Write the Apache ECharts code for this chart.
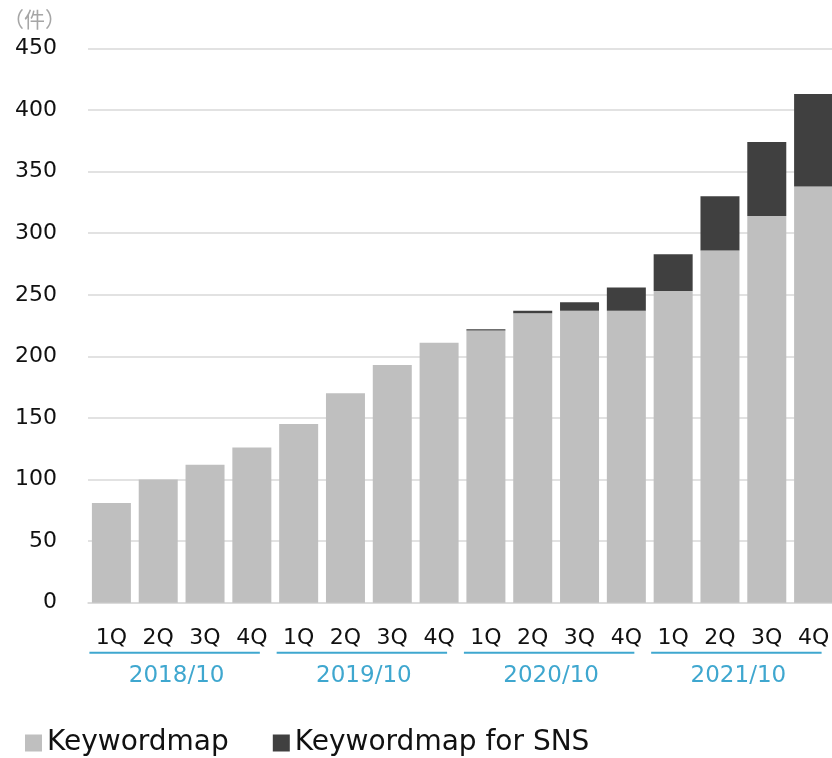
<!DOCTYPE html>
<html>
<head>
<meta charset="utf-8">
<script src="https://cdn.jsdelivr.net/npm/echarts@6/dist/echarts.min.js"></script>
<style>
html,body{margin:0;padding:0;background:#fff;}
#main{width:832px;height:758px;}
</style>
</head>
<body>
<div id="main"></div>
<script>
const quarters = ['1Q','2Q','3Q','4Q','1Q','2Q','3Q','4Q','1Q','2Q','3Q','4Q','1Q','2Q','3Q','4Q'];
const years = ['2018/10','2019/10','2020/10','2021/10'];
const keywordmap = [81, 100, 112, 126, 145, 170, 193, 211, 221, 235, 237, 237, 253, 286, 314, 338];
const keywordmapSNS = [0, 0, 0, 0, 0, 0, 0, 0, 1, 2, 7, 19, 30, 44, 60, 75];
const yTicks = [0, 50, 100, 150, 200, 250, 300, 350, 400, 450];
const seriesNames = ['Keywordmap', 'Keywordmap for SNS'];
const unitLabel = '（件）';

const FONT = 'DejaVu Sans';
const chart = echarts.init(document.getElementById('main'));
const option = {
  animation: false,
  backgroundColor: '#ffffff',
  title: {
    text: unitLabel, left: -2, top: 4,
    textStyle: {fontFamily: 'Noto Sans CJK JP', fontSize: 21, fontWeight: 'normal', color: '#a6a6a6'}
  },
  grid: {left: 88, top: 48.5, right: -5, bottom: 155.3, outerBoundsMode: 'none', containLabel: false},
  legend: {
    left: 20, top: 723, icon: 'rect', itemWidth: 17, itemHeight: 17, itemGap: 44,
    data: seriesNames,
    textStyle: {fontFamily: FONT, fontSize: 28, color: '#111', lineHeight: 30}
  },
  xAxis: [{
    type: 'category', data: quarters.map((q, i) => i), position: 'bottom',
    axisLine: {show: true, lineStyle: {color: '#d9d9d9', width: 1.5}},
    axisTick: {show: false},
    axisLabel: {interval: 0, margin: 25, fontFamily: FONT, fontSize: 22, color: '#111',
      formatter: (v, i) => quarters[i]}
  }, {
    type: 'category', data: years, position: 'bottom', gridIndex: 0,
    axisLine: {show: false}, axisTick: {show: false}, splitLine: {show: false},
    axisLabel: {interval: 0, margin: 62, fontFamily: FONT, fontSize: 23, color: '#3fa7cf',
      padding: [0, 10, 0, 0]}
  }],
  yAxis: {
    type: 'value', min: 0, max: 450, interval: 50,
    axisLine: {show: false}, axisTick: {show: false},
    splitLine: {lineStyle: {color: '#d9d9d9', width: 1.5}},
    axisLabel: {margin: 31, fontFamily: FONT, fontSize: 22, color: '#111',
      formatter: v => yTicks.includes(v) ? String(v) : ''}
  },
  series: [{
    name: seriesNames[0], type: 'bar', stack: 'total', barWidth: 39, xAxisIndex: 0,
    itemStyle: {color: '#bfbfbf'}, data: keywordmap
  }, {
    name: seriesNames[1], type: 'bar', stack: 'total', barWidth: 39, xAxisIndex: 0,
    itemStyle: {color: '#404040'}, data: keywordmapSNS
  }]
};
chart.setOption(option);

// blue underline under each year group, placed from axis pixel positions
const baseY = chart.convertToPixel({yAxisIndex: 0}, 0);
const lineY = baseY + 50;
const graphics = [];
for (let g = 0; g < years.length; g++) {
  const x1 = chart.convertToPixel({xAxisIndex: 0}, g * 4) - 22;
  const x2 = chart.convertToPixel({xAxisIndex: 0}, g * 4 + 3) + 8;
  graphics.push({
    type: 'line', shape: {x1: x1, y1: lineY, x2: x2, y2: lineY},
    style: {stroke: '#3fa7cf', lineWidth: 2}, silent: true
  });
}
chart.setOption({graphic: graphics});
</script>
</body>
</html>
